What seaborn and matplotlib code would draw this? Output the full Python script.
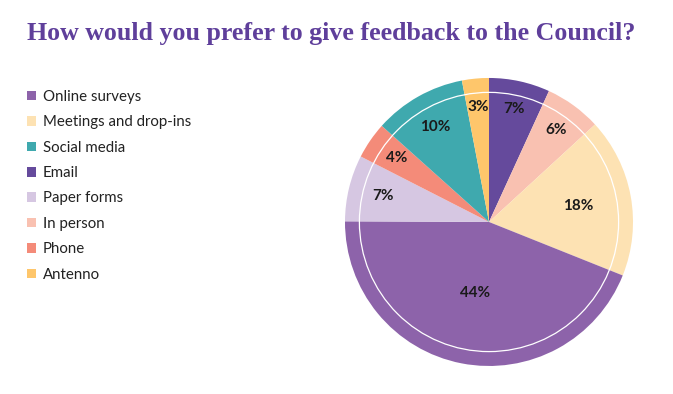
import matplotlib
matplotlib.use("Agg")
import matplotlib.pyplot as plt
import seaborn as sns

# pie order, clockwise from 12 o'clock
slices = ["Email", "In person", "Meetings and drop-ins", "Online surveys",
          "Paper forms", "Phone", "Social media", "Antenno"]
shares = [6.8, 6.3, 17.8, 43.8, 7.4, 4.1, 10.3, 3.0]
colours = ["#654a9c", "#f9c1b1", "#fde2b3", "#8d63aa",
           "#d6c7e2", "#f48b79", "#3fa9ae", "#fec66b"]
legend_order = ["Online surveys", "Meetings and drop-ins", "Social media", "Email",
                "Paper forms", "In person", "Phone", "Antenno"]
title = "How would you prefer to give feedback to the Council?"

sns.set_theme(style="white")
plt.rcParams['font.family'] = ['Lato', 'DejaVu Sans']

fig = plt.figure(figsize=(6.73, 3.94), dpi=100)
ax = fig.add_axes([0.5126, 0.0711, 0.428, 0.731])

wedges, texts, autotexts = ax.pie(
    shares, colors=colours, startangle=90, counterclock=False,
    autopct=lambda p: f"{p:.0f}%", pctdistance=0.75,
    wedgeprops=dict(linewidth=0),
    textprops=dict(fontsize=11, color="#1a1a1a", fontweight="bold"))

# labels sit at slightly different distances in the original
dists = [0.8, 0.79, 0.63, 0.5, 0.76, 0.78, 0.76, 0.8]
for t, d in zip(autotexts, dists):
    x, y = t.get_position()
    r = (x ** 2 + y ** 2) ** 0.5
    t.set_position((x / r * d, y / r * d))

ring = plt.Circle((0, 0), 0.9, fill=False, edgecolor="white", linewidth=0.9)
ax.add_patch(ring)
ax.set_xlim(-1, 1)
ax.set_ylim(-1, 1)
ax.set_aspect("equal")

handles = [wedges[slices.index(n)] for n in legend_order]
fig.legend(handles, legend_order, loc="upper left", bbox_to_anchor=(0.04, 0.772),
           frameon=False, fontsize=10.8, handlelength=0.6, handleheight=0.6,
           handletextpad=0.45, labelspacing=0.76, borderaxespad=0, borderpad=0,
           labelcolor="#222222")

fig.text(0.04, 0.916, title, fontsize=18.6, fontweight="bold", color="#5f3f9b",
         family=["Liberation Serif", "DejaVu Serif"], va="center", ha="left")

fig.savefig("out.png", dpi=100, facecolor="white")
